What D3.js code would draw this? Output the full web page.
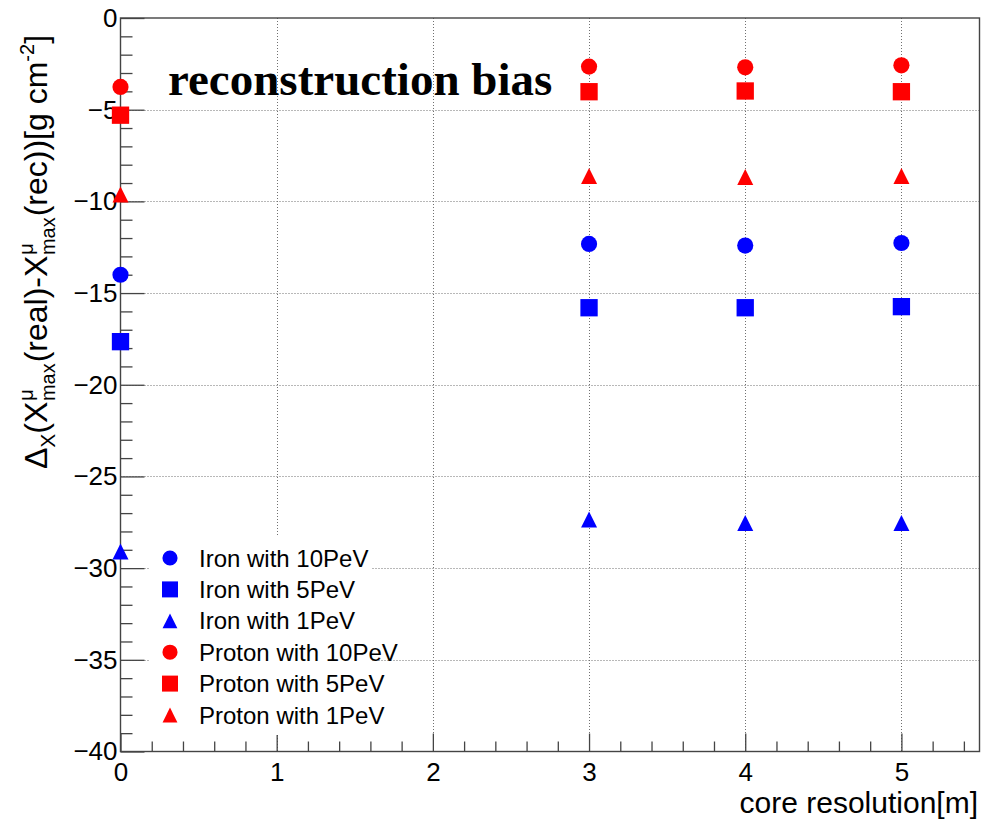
<!DOCTYPE html>
<html>
<head>
<meta charset="utf-8">
<script src="https://cdn.jsdelivr.net/npm/d3@7"></script>
<style>
  body { margin: 0; background: #fff; }
  svg { display: block; font-family: "Liberation Sans", Arial, Helvetica, sans-serif; }
</style>
</head>
<body>
<svg id="chart"></svg>
<script>
// core resolution values [m]
const xValues = [0, 3, 4, 5];

// bias values [g cm^-2]
const ironE10 = [-14.0, -12.32, -12.41, -12.27];
const ironE5 = [-17.65, -15.8, -15.8, -15.74];
const ironE1 = [-29.1, -27.35, -27.54, -27.54];
const protonE10 = [-3.76, -2.65, -2.69, -2.58];
const protonE5 = [-5.3, -4.02, -3.98, -4.02];
const protonE1 = [-9.63, -8.62, -8.67, -8.62];

const seriesNames = ["Iron with 10PeV", "Iron with 5PeV", "Iron with 1PeV",
                     "Proton with 10PeV", "Proton with 5PeV", "Proton with 1PeV"];
const seriesValues = [ironE10, ironE5, ironE1, protonE10, protonE5, protonE1];

const xTicks = [0, 1, 2, 3, 4, 5];
const yTicks = [0, -5, -10, -15, -20, -25, -30, -35, -40];

const width = 981;
const height = 827;
const svg = d3.select("#chart").attr("width", width).attr("height", height);

const xScale = d3.scaleLinear().domain([0, 5.5]).range([120.5, 979.5]);
const yScale = d3.scaleLinear().domain([-40, 0]).range([751.5, 18]);

const colors = ["#0000ff", "#0000ff", "#0000ff", "#ff0000", "#ff0000", "#ff0000"];

// ROOT style triangle: box-centred, not centroid-centred
const triangleUp = {
    draw(context, size) {
        const r = Math.sqrt(size) / 2;
        context.moveTo(0, -r);
        context.lineTo(r, r);
        context.lineTo(-r, r);
        context.closePath();
    }
};
const shapes = [
    d3.symbol(d3.symbolCircle, 205),
    d3.symbol(d3.symbolSquare, 300),
    d3.symbol(triangleUp, 256)
];

// grid
const grid = svg.append("g")
    .attr("stroke", "#707070")
    .attr("stroke-width", 1)
    .attr("stroke-dasharray", "1,2");

grid.selectAll(".vgrid")
    .data(xTicks.slice(1))
    .join("line")
    .attr("class", "vgrid")
    .attr("x1", d => Math.round(xScale(d)) + 0.5)
    .attr("x2", d => Math.round(xScale(d)) + 0.5)
    .attr("y1", yScale(0))
    .attr("y2", yScale(-40));

grid.selectAll(".hgrid")
    .data(yTicks.slice(1, -1))
    .join("line")
    .attr("class", "hgrid")
    .attr("x1", xScale(0))
    .attr("x2", xScale(5.5))
    .attr("y1", d => Math.round(yScale(d)) + 0.5)
    .attr("y2", d => Math.round(yScale(d)) + 0.5);

// title
svg.append("text")
    .attr("x", 168)
    .attr("y", 95)
    .attr("font-family", "'Liberation Serif', 'DejaVu Serif', serif")
    .attr("font-weight", "bold")
    .attr("font-size", 47)
    .attr("fill", "#000")
    .text("reconstruction bias");

// axes (ticks drawn inside the frame, ROOT style)
const yAxis = d3.axisLeft(yScale).tickValues(yTicks).tickSize(-24).tickPadding(3)
    .tickFormat(d3.format("d"));
const yMinor = d3.axisLeft(yScale).tickValues(d3.range(-39, 0).filter(d => d % 5 !== 0))
    .tickSize(-12).tickFormat("");
const xAxis = d3.axisBottom(xScale).tickValues(xTicks).tickSize(-18).tickPadding(11)
    .tickFormat(d3.format("d"));
const xMinor = d3.axisBottom(xScale)
    .tickValues(d3.range(1, 28).map(d => d * 0.2).filter(d => Math.abs(d - Math.round(d)) > 0.01))
    .tickSize(-10).tickFormat("");

function styleAxis(g) {
    g.select(".domain").remove();
    g.selectAll("line").attr("stroke", "#444").attr("stroke-width", 1.3);
    g.selectAll("text").attr("fill", "#000").attr("font-size", 26)
        .attr("font-family", "'Liberation Sans', Arial, sans-serif");
}

svg.append("g").attr("transform", `translate(${xScale(0)},0)`).call(yAxis).call(styleAxis);
svg.append("g").attr("transform", `translate(${xScale(0)},0)`).call(yMinor).call(styleAxis);
svg.append("g").attr("transform", `translate(0,${yScale(-40)})`).call(xAxis).call(styleAxis);
svg.append("g").attr("transform", `translate(0,${yScale(-40)})`).call(xMinor).call(styleAxis);

// frame
svg.append("rect")
    .attr("x", xScale(0))
    .attr("y", yScale(0))
    .attr("width", xScale(5.5) - xScale(0))
    .attr("height", yScale(-40) - yScale(0))
    .attr("fill", "none")
    .attr("stroke", "#444")
    .attr("stroke-width", 1.4);

// data markers
seriesValues.forEach((values, i) => {
    svg.append("g").selectAll("path")
        .data(values.map((v, j) => [xValues[j], v]))
        .join("path")
        .attr("transform", d => `translate(${xScale(d[0])},${yScale(d[1])})`)
        .attr("d", shapes[i % 3]())
        .attr("fill", colors[i]);
});

// legend
const legend = svg.append("g");
legend.append("rect")
    .attr("x", 150).attr("y", 537)
    .attr("width", 222).attr("height", 198)
    .attr("fill", "#fff");

const rows = legend.selectAll(".row")
    .data(seriesNames)
    .join("g")
    .attr("class", "row")
    .attr("transform", (d, i) => `translate(170,${558 + i * 31.4})`);

rows.append("path")
    .attr("d", (d, i) => d3.symbol(i % 3 === 2 ? triangleUp : (i % 3 === 0 ? d3.symbolCircle : d3.symbolSquare),
                                    i % 3 === 0 ? 180 : (i % 3 === 1 ? 256 : 220))())
    .attr("fill", (d, i) => colors[i]);

rows.append("text")
    .attr("x", 29)
    .attr("dy", "0.36em")
    .attr("font-size", 24)
    .attr("fill", "#000")
    .text(d => d);

// x axis title
svg.append("text")
    .attr("x", 978)
    .attr("y", 813)
    .attr("text-anchor", "end")
    .attr("font-size", 30)
    .attr("fill", "#000")
    .text("core resolution[m]");

// y axis title with sub/superscripts
const yLabel = svg.append("text")
    .attr("transform", "translate(47,252) rotate(-90)")
    .attr("text-anchor", "middle")
    .attr("font-size", 32)
    .attr("fill", "#000");

yLabel.append("tspan").text("Δ");
yLabel.append("tspan").attr("dy", 8).attr("font-size", 21).text("X");
yLabel.append("tspan").attr("dy", -8).text("(X");
yLabel.append("tspan").attr("dx", 1).attr("dy", -14).attr("font-size", 20).text("μ");
yLabel.append("tspan").attr("dx", -12).attr("dy", 22).attr("font-size", 20).text("max");
yLabel.append("tspan").attr("dx", 1).attr("dy", -8).text("(real)-X");
yLabel.append("tspan").attr("dx", 1).attr("dy", -14).attr("font-size", 20).text("μ");
yLabel.append("tspan").attr("dx", -12).attr("dy", 22).attr("font-size", 20).text("max");
yLabel.append("tspan").attr("dx", 1).attr("dy", -8).text("(rec))[g cm");
yLabel.append("tspan").attr("dy", -13).attr("font-size", 20).text("-2");
yLabel.append("tspan").attr("dy", 13).text("]");
</script>
</body>
</html>
